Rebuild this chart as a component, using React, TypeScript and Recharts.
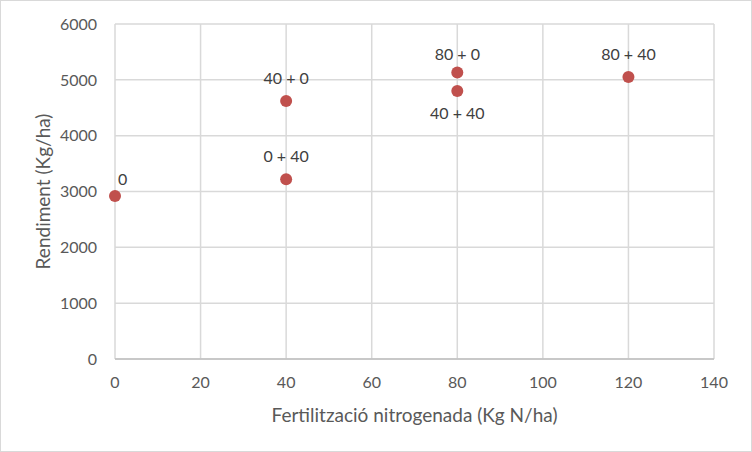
import React from "react";
import { ScatterChart, Scatter, XAxis, YAxis, CartesianGrid, LabelList } from "recharts";

const nitrogen = [0, 40, 40, 80, 80, 120];
const yieldKg = [2920, 3220, 4620, 5130, 4800, 5050];
const treatments = ["0", "0 + 40", "40 + 0", "80 + 0", "40 + 40", "80 + 40"];
const labelPlacement = ["aboveRight", "above", "above", "aboveNear", "below", "above"];

const xTicks = [0, 20, 40, 60, 80, 100, 120, 140];
const yTicks = [0, 1000, 2000, 3000, 4000, 5000, 6000];

const FONT = "Lato, 'Noto Sans', sans-serif";
const POINT_COLOR = "#c0504d";
const GRID_COLOR = "#d9d9d9";

const points = nitrogen.map((x, i) => ({
    x,
    y: yieldKg[i],
    name: treatments[i],
    placement: labelPlacement[i],
}));

const renderPointLabel = (props: any) => {
    const { x, y, width, height, index } = props;
    const cx = x + width / 2;
    const cy = y + height / 2;
    const placement = points[index].placement;
    let dx = 0;
    let dy = -24;
    let anchor: "middle" | "start" = "middle";
    if (placement === "aboveNear") dy = -19;
    if (placement === "below") dy = 21;
    if (placement === "aboveRight") {
        dx = 3;
        dy = -17;
        anchor = "start";
    }
    return (
        <text
            x={cx + dx}
            y={cy + dy}
            textAnchor={anchor}
            dominantBaseline="central"
            fontSize={16}
            fontFamily={FONT}
            fill="#404040"
        >
            {points[index].name}
        </text>
    );
};

export default function App() {
    return (
        <div
            style={{
                position: "absolute",
                left: 0,
                top: 0,
                width: 752,
                height: 452,
                boxSizing: "border-box",
                border: "1px solid #d9d9d9",
                background: "#fff",
            }}
        >
            <div style={{ position: "absolute", left: -1, top: -1 }}>
                <ScatterChart
                    width={752}
                    height={452}
                    margin={{ top: 24, right: 38, bottom: 0, left: 0 }}
                >
                    <CartesianGrid stroke={GRID_COLOR} strokeWidth={1.5} />
                    <XAxis
                        type="number"
                        dataKey="x"
                        domain={[0, 140]}
                        ticks={xTicks}
                        height={93}
                        tickSize={0}
                        tickMargin={18}
                        axisLine={{ stroke: "#bfbfbf", strokeWidth: 1.5 }}
                        tick={{ fill: "#595959", fontSize: 16, fontFamily: FONT }}
                        label={{
                            content: (p: any) => {
                                const vb = p.viewBox;
                                return (
                                    <text
                                        x={vb.x + vb.width / 2}
                                        y={vb.y + 55}
                                        textAnchor="middle"
                                        dominantBaseline="central"
                                        fontSize={19}
                                        fontFamily={FONT}
                                        fill="#595959"
                                    >
                                        Fertilització nitrogenada (Kg N/ha)
                                    </text>
                                );
                            },
                        }}
                    />
                    <YAxis
                        type="number"
                        dataKey="y"
                        domain={[0, 6000]}
                        ticks={yTicks}
                        width={115}
                        tickSize={0}
                        tickMargin={18}
                        axisLine={false}
                        tick={{ fill: "#595959", fontSize: 16, fontFamily: FONT }}
                        label={{
                            content: (p: any) => {
                                const vb = p.viewBox;
                                const lx = vb.x + 42;
                                const ly = vb.y + vb.height / 2;
                                return (
                                    <text
                                        x={lx}
                                        y={ly}
                                        transform={`rotate(-90 ${lx} ${ly})`}
                                        textAnchor="middle"
                                        dominantBaseline="central"
                                        fontSize={19}
                                        fontFamily={FONT}
                                        fill="#595959"
                                    >
                                        Rendiment (Kg/ha)
                                    </text>
                                );
                            },
                        }}
                    />
                    <Scatter
                        data={points}
                        isAnimationActive={false}
                        shape={(p: any) => <circle cx={p.cx} cy={p.cy} r={6} fill={POINT_COLOR} />}
                    >
                        <LabelList dataKey="name" content={renderPointLabel} />
                    </Scatter>
                </ScatterChart>
            </div>
        </div>
    );
}
